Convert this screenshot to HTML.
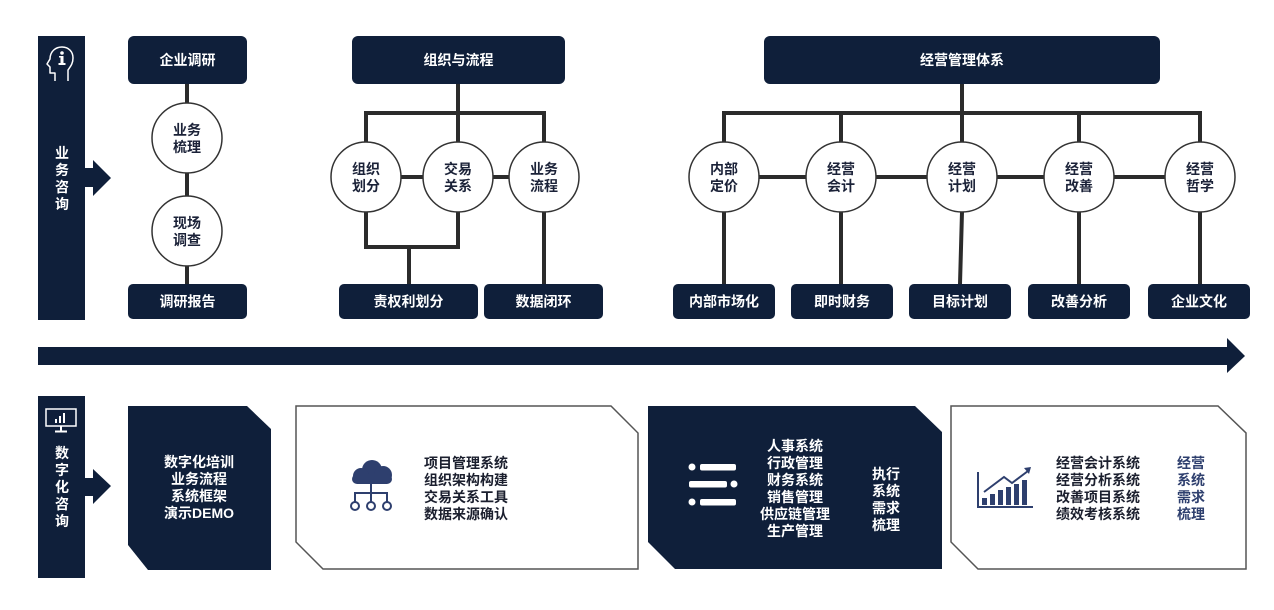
<!DOCTYPE html>
<html><head><meta charset="utf-8"><style>
html,body{margin:0;padding:0;background:#fff;}
svg{display:block;}
text{font-family:"Liberation Sans","Noto Sans CJK SC",sans-serif;font-weight:bold;font-size:14px;dominant-baseline:central;}
.w{fill:#fff;text-anchor:middle;}
.d{fill:#1b2238;text-anchor:middle;}
.dl{fill:#1b1f2e;}
.bl{fill:#2e3f6e;}
</style></head><body>
<svg width="1274" height="610" viewBox="0 0 1274 610" xmlns="http://www.w3.org/2000/svg">
<rect width="1274" height="610" fill="#fff"/>
<g fill="#0f1f3a">
<!-- top sidebar -->
<rect x="38" y="36" width="47" height="284"/>
<polygon points="84,168 93,168 93,160 111,178 93,196 93,187 84,187"/>
<!-- bottom sidebar -->
<rect x="38" y="396" width="47" height="182"/>
<polygon points="84,478 93,478 93,469 111,486 93,504 93,496 84,496"/>
<!-- big arrow -->
<rect x="38" y="347" width="1190" height="18"/>
<polygon points="1227,338 1245,356 1227,373"/>
</g>
<!-- head icon -->
<g fill="none" stroke="#fff" stroke-width="1.5" stroke-linejoin="round">
<path d="M55,81 V73 H50 V67 L47,64 L50,59 C50,51 56,47 62,47 C69,47 73,52 73,58 C73,64 70,67 68,70 V81"/>
</g>
<circle cx="62" cy="53" r="1.8" fill="#fff"/>
<rect x="60.5" y="56" width="3" height="8" fill="#fff"/>
<rect x="58.5" y="63" width="7" height="2" fill="#fff"/>
<rect x="59" y="56" width="3" height="1.5" fill="#fff"/>
<!-- monitor icon -->
<rect x="46" y="409" width="30" height="17" fill="none" stroke="#fff" stroke-width="1.5"/>
<rect x="55" y="419" width="2" height="4" fill="#fff"/>
<rect x="59" y="416" width="2" height="7" fill="#fff"/>
<rect x="63" y="413" width="2" height="10" fill="#fff"/>
<rect x="60" y="426" width="2" height="5" fill="#fff"/>
<rect x="55" y="430.5" width="12" height="2" fill="#fff"/>

<text class="w" x="62" y="153">业</text>
<text class="w" x="62" y="170">务</text>
<text class="w" x="62" y="187">咨</text>
<text class="w" x="62" y="204">询</text>

<text class="w" x="62" y="453">数</text>
<text class="w" x="62" y="470">字</text>
<text class="w" x="62" y="487">化</text>
<text class="w" x="62" y="504">咨</text>
<text class="w" x="62" y="521">询</text>

<!-- connectors -->
<g stroke="#2b2b2b" stroke-width="4" fill="none" stroke-linecap="square">
<line x1="187" y1="84" x2="187" y2="103"/>
<line x1="187" y1="173" x2="187" y2="196"/>
<line x1="187" y1="266" x2="187" y2="284"/>

<line x1="458" y1="84" x2="458" y2="113"/>
<line x1="366" y1="113" x2="544" y2="113"/>
<line x1="366" y1="113" x2="366" y2="142"/>
<line x1="458" y1="113" x2="458" y2="142"/>
<line x1="544" y1="113" x2="544" y2="142"/>
<line x1="401" y1="177" x2="423" y2="177"/>
<line x1="493" y1="177" x2="509" y2="177"/>
<polyline points="366,212 366,247 458,247 458,212"/>
<line x1="409" y1="247" x2="409" y2="284"/>
<line x1="544" y1="212" x2="544" y2="284"/>

<line x1="962" y1="84" x2="962" y2="113"/>
<line x1="724" y1="113" x2="1200" y2="113"/>
<line x1="724" y1="113" x2="724" y2="142"/>
<line x1="841" y1="113" x2="841" y2="142"/>
<line x1="962" y1="113" x2="962" y2="142"/>
<line x1="1079" y1="113" x2="1079" y2="142"/>
<line x1="1200" y1="113" x2="1200" y2="142"/>
<line x1="759" y1="177" x2="806" y2="177"/>
<line x1="876" y1="177" x2="927" y2="177"/>
<line x1="997" y1="177" x2="1044" y2="177"/>
<line x1="1114" y1="177" x2="1165" y2="177"/>
<line x1="724" y1="212" x2="724" y2="284"/>
<line x1="841" y1="212" x2="841" y2="284"/>
<line x1="962" y1="212" x2="960" y2="284"/>
<line x1="1079" y1="212" x2="1079" y2="284"/>
<line x1="1200" y1="212" x2="1200" y2="284"/>
</g>

<!-- boxes -->
<g fill="#0f1f3a">
<rect x="128" y="36" width="119" height="48" rx="6"/>
<rect x="128" y="284" width="119" height="35" rx="5"/>
<rect x="352" y="36" width="213" height="48" rx="6"/>
<rect x="339" y="284" width="139" height="35" rx="5"/>
<rect x="484" y="284" width="119" height="35" rx="5"/>
<rect x="764" y="36" width="396" height="48" rx="6"/>
<rect x="673" y="284" width="102" height="35" rx="5"/>
<rect x="791" y="284" width="102" height="35" rx="5"/>
<rect x="909" y="284" width="102" height="35" rx="5"/>
<rect x="1028" y="284" width="102" height="35" rx="5"/>
<rect x="1148" y="284" width="102" height="35" rx="5"/>
</g>
<text class="w" x="187.5" y="60">企业调研</text>
<text class="w" x="187.5" y="301.5">调研报告</text>
<text class="w" x="458.5" y="60">组织与流程</text>
<text class="w" x="408.5" y="301.5">责权利划分</text>
<text class="w" x="543.5" y="301.5">数据闭环</text>
<text class="w" x="962" y="60">经营管理体系</text>
<text class="w" x="724" y="301.5">内部市场化</text>
<text class="w" x="842" y="301.5">即时财务</text>
<text class="w" x="960" y="301.5">目标计划</text>
<text class="w" x="1079" y="301.5">改善分析</text>
<text class="w" x="1199" y="301.5">企业文化</text>

<!-- circles -->
<g fill="#fff" stroke="#333" stroke-width="1.5">
<circle cx="187" cy="138" r="35"/>
<circle cx="187" cy="231" r="35"/>
<circle cx="366" cy="177" r="35"/>
<circle cx="458" cy="177" r="35"/>
<circle cx="544" cy="177" r="35"/>
<circle cx="724" cy="177" r="35"/>
<circle cx="841" cy="177" r="35"/>
<circle cx="962" cy="177" r="35"/>
<circle cx="1079" cy="177" r="35"/>
<circle cx="1200" cy="177" r="35"/>
</g>
<text class="d" x="187" y="130">业务</text><text class="d" x="187" y="147">梳理</text>
<text class="d" x="187" y="223">现场</text><text class="d" x="187" y="240">调查</text>
<text class="d" x="366" y="169">组织</text><text class="d" x="366" y="186">划分</text>
<text class="d" x="458" y="169">交易</text><text class="d" x="458" y="186">关系</text>
<text class="d" x="544" y="169">业务</text><text class="d" x="544" y="186">流程</text>
<text class="d" x="724" y="169">内部</text><text class="d" x="724" y="186">定价</text>
<text class="d" x="841" y="169">经营</text><text class="d" x="841" y="186">会计</text>
<text class="d" x="962" y="169">经营</text><text class="d" x="962" y="186">计划</text>
<text class="d" x="1079" y="169">经营</text><text class="d" x="1079" y="186">改善</text>
<text class="d" x="1200" y="169">经营</text><text class="d" x="1200" y="186">哲学</text>

<!-- bottom cards -->
<polygon points="128,406 247,406 271,429 271,570 148,570 128,545" fill="#0f1f3a"/>
<text class="w" x="199" y="462">数字化培训</text>
<text class="w" x="199" y="479">业务流程</text>
<text class="w" x="199" y="496">系统框架</text>
<text class="w" x="199" y="513">演示DEMO</text>

<polygon points="296,406 611,406 638,433 638,569 323,569 296,542" fill="#fff" stroke="#555" stroke-width="1.5"/>
<g fill="#2e3f6e">
<circle cx="372" cy="470" r="10"/>
<circle cx="361" cy="476" r="8"/>
<circle cx="383" cy="475" r="9"/>
<rect x="352" y="474" width="40" height="10" rx="5"/>
</g>
<g stroke="#2e3f6e" stroke-width="2" fill="none">
<line x1="371" y1="484" x2="371" y2="502"/>
<polyline points="355,502 355,493 387,493 387,502"/>
<circle cx="355" cy="506" r="4" fill="#fff"/>
<circle cx="371" cy="506" r="4" fill="#fff"/>
<circle cx="387" cy="506" r="4" fill="#fff"/>
</g>
<text class="dl" x="424" y="463">项目管理系统</text>
<text class="dl" x="424" y="480">组织架构构建</text>
<text class="dl" x="424" y="497">交易关系工具</text>
<text class="dl" x="424" y="514">数据来源确认</text>

<polygon points="648,406 915,406 942,432 942,569 675,569 648,542" fill="#0f1f3a"/>
<g fill="#fff">
<circle cx="692" cy="467" r="3.5"/>
<rect x="700" y="464" width="36" height="6.5" rx="2"/>
<rect x="689" y="481" width="38" height="6.5" rx="2"/>
<circle cx="734" cy="484" r="3.5"/>
<circle cx="692" cy="502" r="3.5"/>
<rect x="700" y="499" width="36" height="6.5" rx="2"/>
</g>
<text class="w" x="795" y="446">人事系统</text>
<text class="w" x="795" y="463">行政管理</text>
<text class="w" x="795" y="480">财务系统</text>
<text class="w" x="795" y="497">销售管理</text>
<text class="w" x="795" y="514">供应链管理</text>
<text class="w" x="795" y="531">生产管理</text>
<text class="w" x="886" y="474">执行</text>
<text class="w" x="886" y="491">系统</text>
<text class="w" x="886" y="508">需求</text>
<text class="w" x="886" y="525">梳理</text>

<polygon points="951,406 1218,406 1246,433 1246,569 978,569 951,542" fill="#fff" stroke="#555" stroke-width="1.5"/>
<g fill="#2e3f6e">
<rect x="977" y="472" width="2" height="36"/>
<rect x="977" y="506" width="56" height="2"/>
<rect x="982" y="498" width="5" height="7"/>
<rect x="990" y="494" width="5" height="11"/>
<rect x="998" y="490" width="5" height="15"/>
<rect x="1006" y="487" width="5" height="18"/>
<rect x="1014" y="484" width="5" height="21"/>
<rect x="1022" y="480" width="5" height="25"/>
<polygon points="1031,467 1024,468 1029,474"/>
</g>
<polyline points="984,492 1004,477 1012,483 1028,471" fill="none" stroke="#2e3f6e" stroke-width="2"/>
<text class="dl" x="1056" y="463">经营会计系统</text>
<text class="dl" x="1056" y="480">经营分析系统</text>
<text class="dl" x="1056" y="497">改善项目系统</text>
<text class="dl" x="1056" y="514">绩效考核系统</text>
<text class="bl" x="1177" y="463">经营</text>
<text class="bl" x="1177" y="480">系统</text>
<text class="bl" x="1177" y="497">需求</text>
<text class="bl" x="1177" y="514">梳理</text>
</svg>
</body></html>
